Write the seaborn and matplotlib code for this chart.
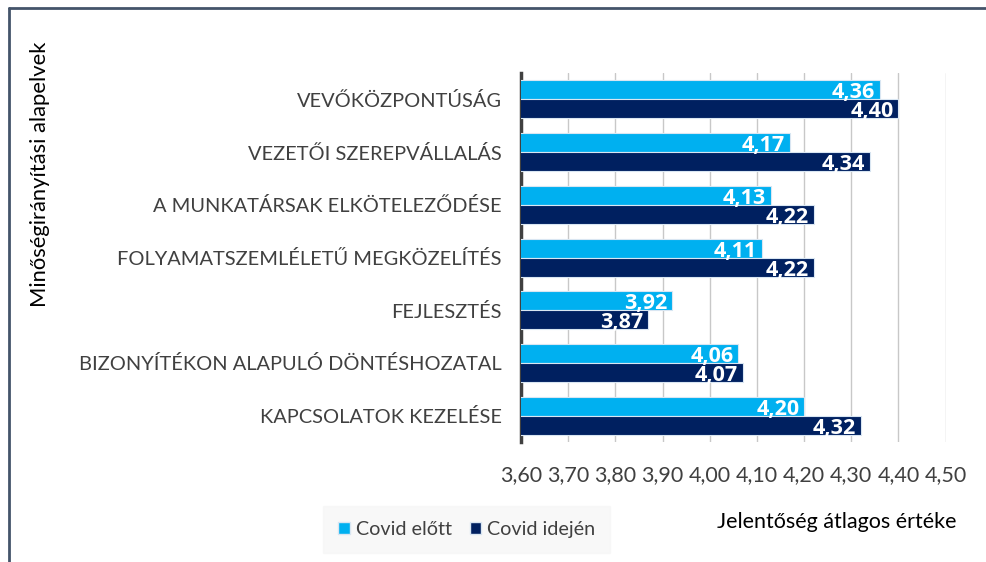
import pandas as pd
import seaborn as sns
import matplotlib.pyplot as plt
import matplotlib.patches as mpatches
from matplotlib.lines import Line2D

# Data
categories = [
    "VEVŐKÖZPONTÚSÁG",
    "VEZETŐI SZEREPVÁLLALÁS",
    "A MUNKATÁRSAK ELKÖTELEZŐDÉSE",
    "FOLYAMATSZEMLÉLETŰ MEGKÖZELÍTÉS",
    "FEJLESZTÉS",
    "BIZONYÍTÉKON ALAPULÓ DÖNTÉSHOZATAL",
    "KAPCSOLATOK KEZELÉSE",
]
covid_elott = [4.36, 4.17, 4.13, 4.11, 3.92, 4.06, 4.20]
covid_idejen = [4.40, 4.34, 4.22, 4.22, 3.87, 4.07, 4.32]
series_names = ["Covid előtt", "Covid idején"]
x_ticks = [3.6, 3.7, 3.8, 3.9, 4.0, 4.1, 4.2, 4.3, 4.4, 4.5]

colors = {"Covid előtt": "#00b0f0", "Covid idején": "#002060"}

df = pd.DataFrame({
    "Alapelv": categories * 2,
    "Érték": covid_elott + covid_idejen,
    "Időszak": [series_names[0]] * len(categories) + [series_names[1]] * len(categories),
})

sns.set_style("white")
plt.rcParams["font.family"] = ["Lato", "DejaVu Sans"]

fig = plt.figure(figsize=(9.87, 5.62), dpi=100)
ax = fig.add_axes([0.528, 0.2135, 0.43, 0.6565])

sns.barplot(data=df, y="Alapelv", x="Érték", hue="Időszak", orient="h",
            palette=colors, saturation=1, width=0.72, ax=ax, legend=False,
            edgecolor="#d9e6f2", linewidth=0.8, zorder=3)

ax.set_xlim(3.6, 4.5)
ax.set_xticks(x_ticks)
ax.set_xticklabels([f"{t:.2f}".replace(".", ",") for t in x_ticks], fontsize=15.5, color="#404040")
ax.tick_params(axis="x", length=3.6, width=1, color="#a6a6a6", pad=13)
ax.tick_params(axis="y", length=0, pad=14, labelsize=14.4, labelcolor="#404040")
ax.xaxis.grid(True, color="#c8c8c8", linewidth=1, zorder=0)
ax.set_axisbelow(True)
ax.set_xlabel("")
ax.set_ylabel("")
for side in ["top", "right", "bottom"]:
    ax.spines[side].set_visible(False)
ax.spines["left"].set_color("#404040")
ax.spines["left"].set_linewidth(2.5)

# value labels inside the bar ends
for container, vals in zip(ax.containers, [covid_elott, covid_idejen]):
    for bar, v in zip(container, vals):
        ax.text(v - 0.01, bar.get_y() + bar.get_height() * 0.66, f"{v:.2f}".replace(".", ","),
                ha="right", va="center", color="white", fontsize=15.5, fontweight="bold",
                family=["Open Sans", "DejaVu Sans"], zorder=4)

# y axis title
fig.text(0.041, 0.689, "Minőségirányítási alapelvek", rotation=90, ha="center", va="center",
         fontsize=15.8, color="black")

# x axis title
fig.text(0.848, 0.071, "Jelentőség átlagos értéke", ha="center", va="center",
         fontsize=15.5, color="black")

# legend
handles = [mpatches.Patch(facecolor=colors[s], edgecolor="#d9e6f2", label=s) for s in series_names]
leg = fig.legend(handles=handles, loc="center", bbox_to_anchor=(0.473, 0.058), ncol=2,
                 frameon=True, fontsize=14.2, handlelength=0.6, handleheight=0.6,
                 handletextpad=0.3, columnspacing=0.9, borderpad=0.75)
leg.get_frame().set_facecolor("#f7f7f7")
leg.get_frame().set_edgecolor("#f7f7f7")
leg.get_frame().set_boxstyle("square", pad=0)
for t in leg.get_texts():
    t.set_color("#404040")

# frame lines on the left and top
fig.add_artist(Line2D([0.0095, 0.0095], [0, 0.986], transform=fig.transFigure, color="#44546a", linewidth=2))
fig.add_artist(Line2D([0.0095, 1], [0.986, 0.986], transform=fig.transFigure, color="#44546a", linewidth=2))

fig.savefig("out.png", dpi=100)
